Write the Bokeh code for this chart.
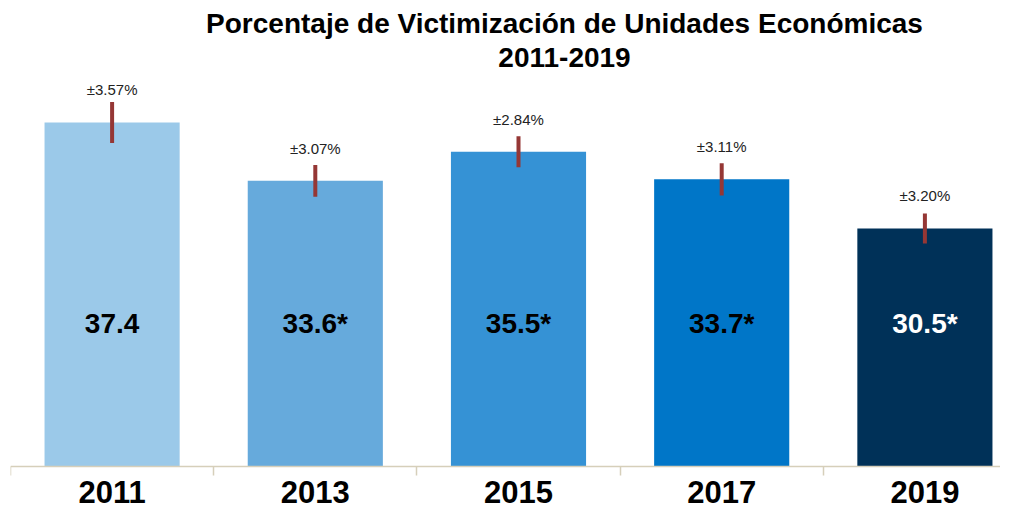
from bokeh.plotting import figure
from bokeh.models import Range1d, FixedTicker, ColumnDataSource, Label
from bokeh.core.properties import value
from bokeh.embed import file_html
from bokeh.resources import INLINE

# ---- data ----
years = ["2011", "2013", "2015", "2017", "2019"]
victimization = [37.4, 33.6, 35.5, 33.7, 30.5]
value_labels = ["37.4", "33.6*", "35.5*", "33.7*", "30.5*"]
margin_pct = [3.57, 3.07, 2.84, 3.11, 3.20]
margin_labels = ["±3.57%", "±3.07%", "±2.84%", "±3.11%", "±3.20%"]

# ---- styles ----
bar_colors = ["#9BC9E9", "#66AADC", "#3592D5", "#0076C8", "#003158"]
value_text_colors = ["#000000", "#000000", "#000000", "#000000", "#FFFFFF"]
err_color = "#953735"
axis_color = "#D6CFBA"
FONT = "Liberation Sans"

# ---- layout constants (canvas pixels) ----
W, H = 1000, 509
AXIS_PX = 466          # canvas y of the baseline axis
TOP_REF_PX = 122       # canvas y of the first bar's top
CAT_PX = 203.2         # width of one category in px
Y0 = 15.0              # value at the baseline
PX_PER_UNIT = (AXIS_PX - TOP_REF_PX) / (victimization[0] - Y0)
LEFT = 10
MID = 0.37             # baseline sits ~0.37em below a "middle"-anchored y

def ydata(canvas_y):
    return Y0 + (AXIS_PX - canvas_y) / PX_PER_UNIT

def xdata(canvas_x):
    return (canvas_x - LEFT) / CAT_PX

centers = [i + 0.5 for i in range(len(years))]
bounds = [float(i) for i in range(len(years) + 1)]
err_lo = [v - v * m / 100 for v, m in zip(victimization, margin_pct)]
err_hi = [v + v * m / 100 for v, m in zip(victimization, margin_pct)]

src = ColumnDataSource(dict(x=centers, top=victimization, color=bar_colors,
                            vlab=value_labels, vcol=value_text_colors,
                            lo=err_lo, hi=err_hi, mlab=margin_labels))

p = figure(width=W, height=H, output_backend="svg", toolbar_location=None,
           x_range=Range1d(0, (W - LEFT) / CAT_PX),
           y_range=Range1d(ydata(H), ydata(0)),
           y_axis_location=None, min_border_left=LEFT, min_border_right=0,
           min_border_top=0, min_border_bottom=0)
p.outline_line_color = None
p.grid.visible = False
p.background_fill_color = "white"

p.vbar(x="x", top="top", bottom=Y0, width=0.665, fill_color="color",
       line_color=None, source=src)

p.segment(x0="x", x1="x", y0="lo", y1="hi", line_color=err_color,
          line_width=4, source=src)

# margin-of-error labels sit a fixed distance above each bar top
ERR_FS = 15
p.text(x="x", y="top", text="mlab", source=src, text_align="center",
       text_baseline="middle", y_offset=-27 - MID * ERR_FS,
       text_font=value(FONT), text_font_size=f"{ERR_FS}px",
       text_color="#222222")

VAL_FS = 28
p.text(x="x", y=ydata(333 - MID * VAL_FS), text="vlab", source=src,
       text_align="center", text_baseline="middle", text_color="vcol",
       text_font=value(FONT), text_font_style="bold",
       text_font_size=f"{VAL_FS}px")

ax = p.xaxis[0]
ax.fixed_location = Y0
ax.ticker = FixedTicker(ticks=centers, minor_ticks=bounds)
ax.major_label_overrides = {c: y for c, y in zip(centers, years)}
ax.axis_line_color = axis_color
ax.axis_line_width = 1.5
ax.major_tick_line_color = None
ax.major_tick_out = 0
ax.major_tick_in = 0
ax.minor_tick_line_color = axis_color
ax.minor_tick_line_width = 1.5
ax.minor_tick_out = 9
ax.minor_tick_in = 0
ax.major_label_standoff = 5
ax.major_label_text_font = FONT
ax.major_label_text_font_style = "bold"
ax.major_label_text_font_size = "31px"
ax.major_label_text_color = "#000000"

TITLE_FS = 28
for txt, base in [("Porcentaje de Victimización de Unidades Económicas", 33),
                  ("2011-2019", 67)]:
    p.add_layout(Label(x=xdata(564), y=ydata(base - MID * TITLE_FS), text=txt,
                       text_align="center", text_baseline="middle",
                       text_font=FONT, text_font_style="bold",
                       text_font_size=f"{TITLE_FS}px", text_color="#000000"))

open("out.html", "w").write(file_html(p, INLINE))
